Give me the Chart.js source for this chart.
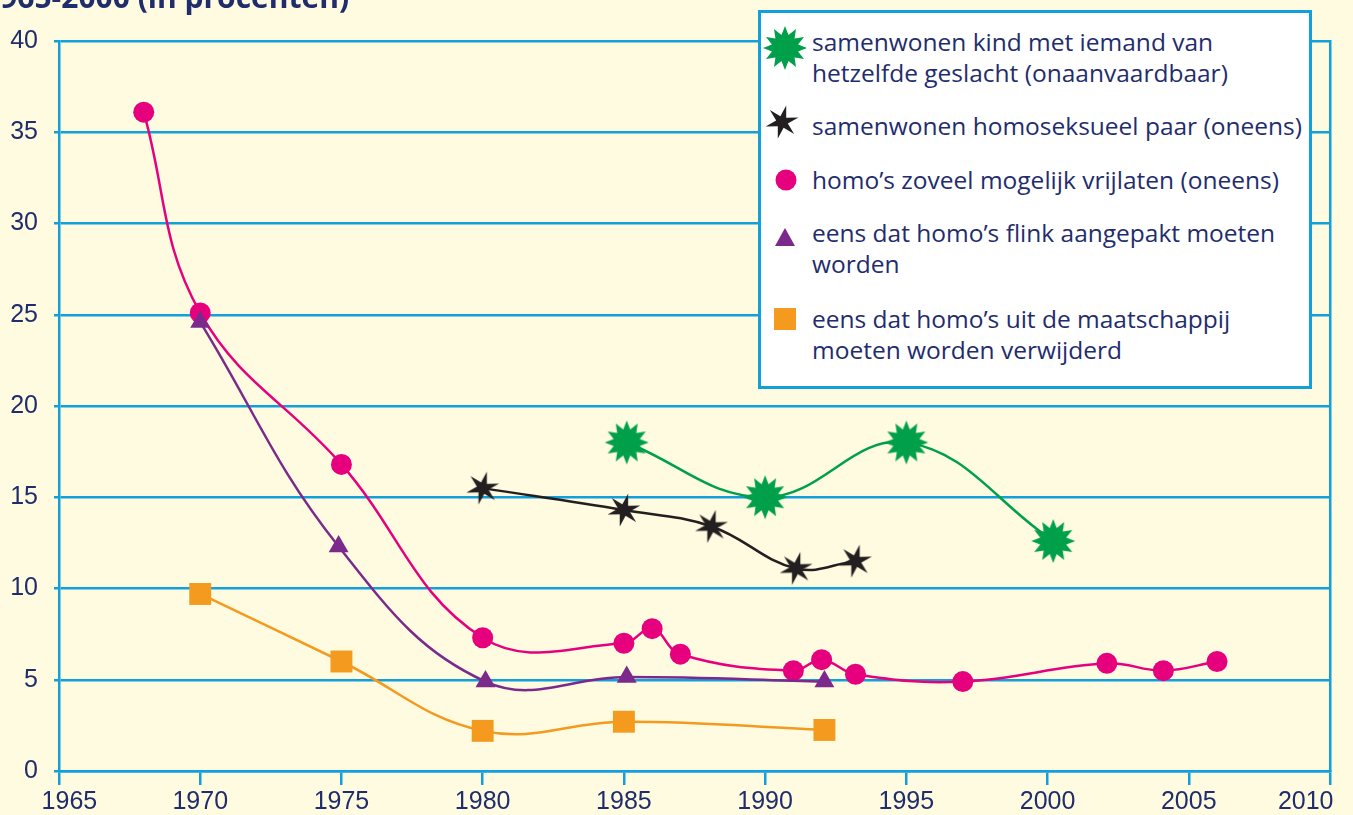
<!DOCTYPE html>
<html>
<head>
<meta charset="utf-8">
<script src="https://cdn.jsdelivr.net/npm/chart.js@4.4.1/dist/chart.umd.min.js"></script>
<style>
  html, body { margin: 0; padding: 0; background: #fefbe0; overflow: hidden; }
  #wrap { position: relative; width: 1353px; height: 815px; }
  #legend {
    position: absolute; left: 758px; top: 10px; width: 548px; height: 373px;
    background: #ffffff; border: 3px solid #12a0db;
    font-family: "Open Sans", sans-serif; font-size: 24.5px; line-height: 31px; color: #1f2d6d;
  }
  .item { position: absolute; left: 51px; white-space: nowrap; }
  .mark { position: absolute; }
</style>
</head>
<body>
<div id="wrap">
  <canvas id="chart" width="1353" height="815"></canvas>
  <div id="legend"></div>
</div>
<script>
// ── DATA ──────────────────────────────────────────
const xTicks = [1965, 1970, 1975, 1980, 1985, 1990, 1995, 2000, 2005, 2010];
const yTicks = [0, 5, 10, 15, 20, 25, 30, 35, 40];

const kindYears  = [1985.1, 1990, 1995, 2000.2];
const kindValues = [18.0, 15.0, 18.0, 12.6];

const paarYears  = [1980, 1985, 1988.1, 1991.1, 1993.2];
const paarValues = [15.5, 14.3, 13.4, 11.1, 11.5];

const vrijYears  = [1968, 1970, 1975, 1980, 1985, 1986, 1987, 1991, 1992, 1993.2, 1997, 2002.1, 2004.1, 2006];
const vrijValues = [36.1, 25.1, 16.8, 7.3, 7.0, 7.8, 6.4, 5.5, 6.1, 5.3, 4.9, 5.9, 5.5, 6.0];

const aanpakYears  = [1970, 1974.9, 1980.1, 1985.1, 1992.1];
const aanpakValues = [24.6, 12.3, 4.9, 5.15, 4.9];

const verwijderYears  = [1970, 1975, 1980, 1985, 1992.1];
const verwijderValues = [9.7, 6.0, 2.2, 2.7, 2.25];

const labels = [
  ['samenwonen kind met iemand van', 'hetzelfde geslacht (onaanvaardbaar)'],
  ['samenwonen homoseksueel paar (oneens)'],
  ['homo\u2019s zoveel mogelijk vrijlaten (oneens)'],
  ['eens dat homo\u2019s flink aangepakt moeten', 'worden'],
  ['eens dat homo\u2019s uit de maatschappij', 'moeten worden verwijderd']
];

const GREEN = '#00a04b', BLACK = '#231f20', PINK = '#e6007e', PURPLE = '#7b2a8c', ORANGE = '#f39a1f';
const BLUE = '#12a0db', NAVY = '#1f2d6d';

// ── MARKERS ───────────────────────────────────────
function starCanvas(points, rOut, rIn, color, rot) {
  const size = Math.ceil(rOut * 2 + 4);
  const c = document.createElement('canvas');
  c.width = size; c.height = size;
  const ctx = c.getContext('2d');
  ctx.translate(size / 2, size / 2);
  ctx.beginPath();
  for (let i = 0; i < points * 2; i++) {
    const r = i % 2 === 0 ? rOut : rIn;
    const a = rot + i * Math.PI / points;
    ctx.lineTo(Math.cos(a) * r, Math.sin(a) * r);
  }
  ctx.closePath();
  ctx.fillStyle = color;
  ctx.fill();
  return c;
}
const burst = starCanvas(12, 22, 13.5, GREEN, -Math.PI / 2);
const asterisk = starCanvas(6, 17, 6, BLACK, -Math.PI / 2 + 0.25);

const pts = (xs, ys) => xs.map((x, i) => ({ x, y: ys[i] }));

// first and last year labels sit a little inward, as in the print
function yearLabel(v) {
  if (v === xTicks[0]) return '   ' + v;
  if (v === xTicks[xTicks.length - 1]) return v + '       ';
  return String(v);
}

// ── CHART ─────────────────────────────────────────
const titlePlugin = {
  id: 'cutTitle',
  beforeDraw(chart) {
    const ctx = chart.ctx;
    ctx.save();
    ctx.font = 'bold 30px "Open Sans", sans-serif';
    ctx.fillStyle = NAVY;
    ctx.textBaseline = 'alphabetic';
    ctx.fillText('1965-2000 (in procenten)', -17, 8);
    ctx.restore();
  }
};

const line = (data, color, extra) => Object.assign({
  data, borderColor: color, backgroundColor: color, pointBackgroundColor: color,
  borderWidth: 2.5, tension: 0.4, pointBorderWidth: 0, fill: false
}, extra);

new Chart(document.getElementById('chart'), {
  type: 'line',
  data: {
    datasets: [
      line(pts(verwijderYears, verwijderValues), ORANGE, { pointStyle: 'rect', pointRadius: 15.5 }),
      line(pts(aanpakYears, aanpakValues), PURPLE, { pointStyle: 'triangle', pointRadius: 11.5 }),
      line(pts(vrijYears, vrijValues), PINK, { pointStyle: 'circle', pointRadius: 10.5 }),
      line(pts(paarYears, paarValues), BLACK, { pointStyle: asterisk }),
      line(pts(kindYears, kindValues), GREEN, { pointStyle: burst })
    ]
  },
  options: {
    responsive: false,
    animation: false,
    layout: { padding: { top: 41, left: 0, right: 0, bottom: 0 } },
    plugins: { legend: { display: false }, tooltip: { enabled: false } },
    scales: {
      x: {
        type: 'linear', min: 1965, max: 2010,
        afterBuildTicks: s => { s.ticks = xTicks.map(v => ({ value: v })); },
        afterFit: s => { s.height = 44; s.paddingLeft = 0; s.paddingRight = 0; },
        ticks: {
          color: NAVY, padding: 2, maxRotation: 0, autoSkip: false,
          font: { family: '"Liberation Sans", sans-serif', size: 25 },
          callback: yearLabel
        },
        grid: { drawOnChartArea: false, drawTicks: true, tickLength: 14, color: BLUE, lineWidth: 2.5 },
        border: { color: BLUE, width: 2.5 }
      },
      y: {
        min: 0, max: 40,
        afterBuildTicks: s => { s.ticks = yTicks.map(v => ({ value: v })); },
        afterFit: s => { s.width = 59; },
        ticks: {
          color: NAVY, padding: 16,
          font: { family: '"Liberation Sans", sans-serif', size: 25 }
        },
        grid: { color: BLUE, lineWidth: 2.5, tickLength: 5 },
        border: { color: BLUE, width: 2.5 }
      },
      y2: {
        position: 'right', min: 0, max: 40,
        afterFit: s => { s.width = 23; },
        ticks: { display: false },
        grid: { drawOnChartArea: false, drawTicks: false },
        border: { color: BLUE, width: 2.5 }
      }
    }
  },
  plugins: [titlePlugin]
});

// ── LEGEND ────────────────────────────────────────
const legend = document.getElementById('legend');
const itemTops = [13, 97, 151, 204, 290];
const markCenters = [[24, 35], [21, 109], [25, 167], [24, 224], [24, 306]];
const markers = [
  burst, asterisk,
  (() => { const c = document.createElement('canvas'); c.width = 22; c.height = 22;
    const x = c.getContext('2d'); x.fillStyle = PINK; x.beginPath(); x.arc(11, 11, 10.5, 0, Math.PI * 2); x.fill(); return c; })(),
  (() => { const c = document.createElement('canvas'); c.width = 22; c.height = 20;
    const x = c.getContext('2d'); x.fillStyle = PURPLE; x.beginPath(); x.moveTo(11, 1); x.lineTo(21, 19); x.lineTo(1, 19); x.closePath(); x.fill(); return c; })(),
  (() => { const c = document.createElement('canvas'); c.width = 22; c.height = 22;
    const x = c.getContext('2d'); x.fillStyle = ORANGE; x.fillRect(0, 0, 22, 22); return c; })()
];
labels.forEach((lines, i) => {
  const d = document.createElement('div');
  d.className = 'item';
  d.style.top = itemTops[i] + 'px';
  d.innerHTML = lines.join('<br>');
  legend.appendChild(d);
  const m = markers[i];
  const img = document.createElement('img');
  img.src = m.toDataURL();
  img.className = 'mark';
  img.style.left = (markCenters[i][0] - m.width / 2) + 'px';
  img.style.top = (markCenters[i][1] - m.height / 2) + 'px';
  legend.appendChild(img);
});
</script>
</body>
</html>
